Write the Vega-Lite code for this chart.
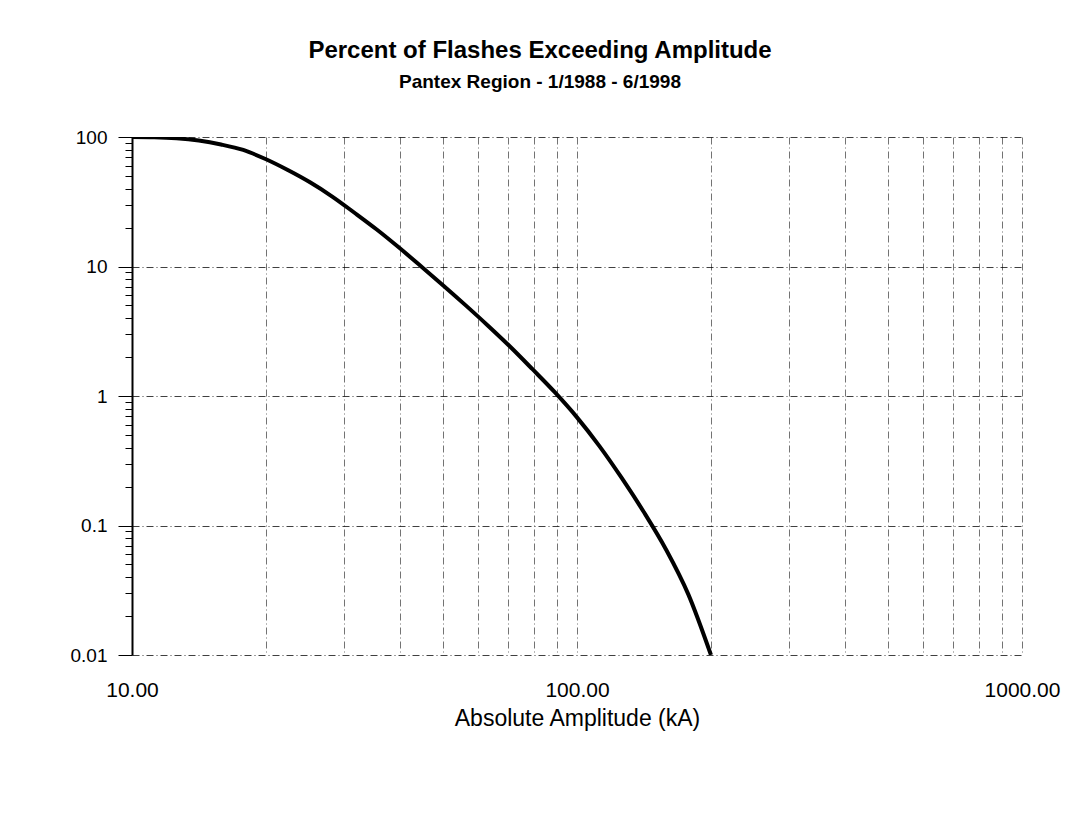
{
  "$schema": "https://vega.github.io/schema/vega-lite/v6.json",
  "autosize": {"type": "none"},
  "width": 890,
  "height": 518,
  "padding": {"left": 132, "top": 137, "right": 49, "bottom": 159},
  "background": "white",
  "title": {
    "text": "Percent of Flashes Exceeding Amplitude",
    "subtitle": "Pantex Region - 1/1988 - 6/1998",
    "anchor": "middle",
    "dx": -37,
    "offset": 36,
    "font": "Liberation Sans",
    "fontSize": 24,
    "fontWeight": "bold",
    "color": "black",
    "subtitleFont": "Liberation Sans",
    "subtitleFontSize": 19,
    "subtitleFontWeight": "bold",
    "subtitleColor": "black",
    "subtitlePadding": 10
  },
  "data": {
    "values": [
      {"amp": 10, "pct": 100},
      {"amp": 11.22, "pct": 99.5},
      {"amp": 12.59, "pct": 97.7},
      {"amp": 14.13, "pct": 93.8},
      {"amp": 15.85, "pct": 87.5},
      {"amp": 17.78, "pct": 79.4},
      {"amp": 19.95, "pct": 67.6},
      {"amp": 22.39, "pct": 55.6},
      {"amp": 25.12, "pct": 44.7},
      {"amp": 28.18, "pct": 34.7},
      {"amp": 31.62, "pct": 26.0},
      {"amp": 35.48, "pct": 19.3},
      {"amp": 39.81, "pct": 14.0},
      {"amp": 44.67, "pct": 10.0},
      {"amp": 50.12, "pct": 7.11},
      {"amp": 56.23, "pct": 5.01},
      {"amp": 63.1, "pct": 3.49},
      {"amp": 70.79, "pct": 2.4},
      {"amp": 79.43, "pct": 1.61},
      {"amp": 89.13, "pct": 1.07},
      {"amp": 100, "pct": 0.684},
      {"amp": 112.2, "pct": 0.412},
      {"amp": 125.9, "pct": 0.234},
      {"amp": 141.3, "pct": 0.127},
      {"amp": 158.5, "pct": 0.0653},
      {"amp": 177.8, "pct": 0.0295},
      {"amp": 200, "pct": 0.01}
    ]
  },
  "mark": {"type": "line", "color": "black", "strokeWidth": 4, "interpolate": "monotone", "clip": true},
  "encoding": {
    "x": {
      "field": "amp",
      "type": "quantitative",
      "scale": {"type": "log", "domain": [10, 1000], "nice": false},
      "axis": {
        "title": "Absolute Amplitude (kA)",
        "values": [10, 20, 30, 40, 50, 60, 70, 80, 90, 100, 200, 300, 400, 500, 600, 700, 800, 900, 1000],
        "labelExpr": "abs(log(datum.value)/LN10 - round(log(datum.value)/LN10)) < 0.000001 ? format(datum.value, '.2f') : ''",
        "labelFont": "Liberation Sans",
        "labelFontSize": 21,
        "labelColor": "black",
        "labelPadding": 24,
        "labelOverlap": false,
        "labelFlush": false,
        "ticks": false,
        "tickSize": 0,
        "domain": false,
        "grid": true,
        "gridColor": "black",
        "gridOpacity": 0.55,
        "gridWidth": 1,
        "gridDash": [7, 3, 1, 3],
        "titleFont": "Liberation Sans",
        "titleFontSize": 23,
        "titleFontWeight": "normal",
        "titleColor": "black",
        "titlePadding": 7
      }
    },
    "y": {
      "field": "pct",
      "type": "quantitative",
      "scale": {"type": "log", "domain": [0.01, 100], "nice": false},
      "axis": {
        "title": null,
        "values": [0.01, 0.02, 0.03, 0.04, 0.05, 0.06, 0.07, 0.08, 0.09, 0.1, 0.2, 0.3, 0.4, 0.5, 0.6, 0.7, 0.8, 0.9, 1, 2, 3, 4, 5, 6, 7, 8, 9, 10, 20, 30, 40, 50, 60, 70, 80, 90, 100],
        "labelExpr": "abs(log(datum.value)/LN10 - round(log(datum.value)/LN10)) < 0.000001 ? format(datum.value, '') : ''",
        "labelFont": "Liberation Sans",
        "labelFontSize": 19,
        "labelColor": "black",
        "labelPadding": 11,
        "labelOverlap": false,
        "labelFlush": false,
        "domain": true,
        "domainColor": "black",
        "domainWidth": 2,
        "ticks": true,
        "tickColor": "black",
        "tickWidth": 1,
        "tickSize": {"condition": {"test": "abs(log(datum.value)/LN10 - round(log(datum.value)/LN10)) < 0.000001", "value": 14}, "value": 7},
        "grid": true,
        "gridColor": "black",
        "gridWidth": 1,
        "gridDash": [7, 3, 1, 3],
        "gridOpacity": {"condition": {"test": "abs(log(datum.value)/LN10 - round(log(datum.value)/LN10)) < 0.000001", "value": 0.75}, "value": 0}
      }
    }
  },
  "config": {
    "view": {"stroke": null},
    "font": "Liberation Sans"
  }
}
